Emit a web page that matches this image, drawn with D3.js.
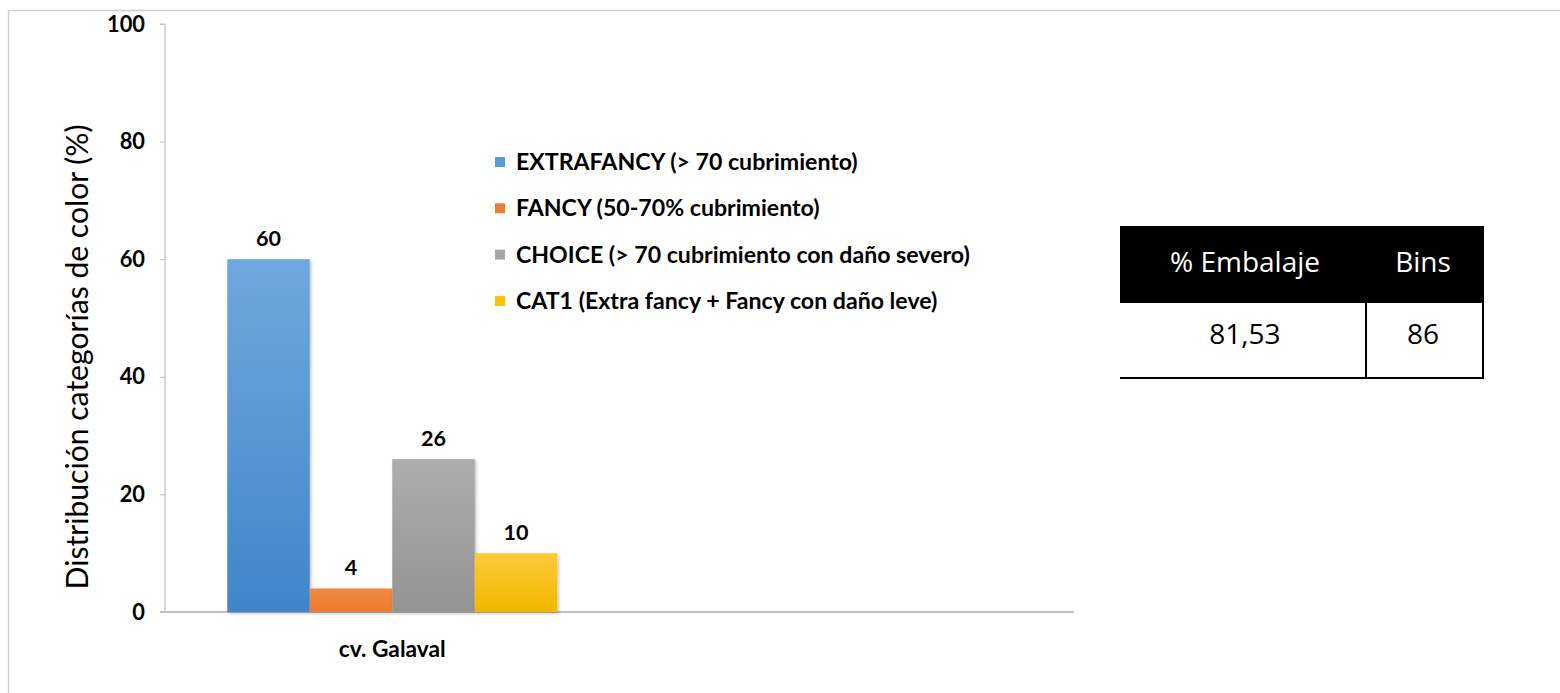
<!DOCTYPE html>
<html>
<head>
<meta charset="utf-8">
<script src="https://cdn.jsdelivr.net/npm/d3@7"></script>
<style>
  html, body { margin: 0; padding: 0; background: #fff; }
  svg { display: block; }
</style>
</head>
<body>
<svg id="chart" width="1560" height="693"></svg>
<script>
// ---------- data ----------
const categories = ["cv. Galaval", ""];
const seriesNames = [
  "EXTRAFANCY (> 70 cubrimiento)",
  "FANCY (50-70% cubrimiento)",
  "CHOICE (> 70 cubrimiento con daño severo)",
  "CAT1 (Extra fancy + Fancy con daño leve)"
];
const seriesValues = [60, 4, 26, 10];           // values for "cv. Galaval"
const yTicks = [0, 20, 40, 60, 80, 100];
const yTitle = "Distribución categorías de color (%)";
const tableHeaders = ["% Embalaje", "Bins"];
const tableValues = ["81,53", "86"];

// ---------- styles ----------
const colorsTop = ["#70a7de", "#f18b42", "#adadad", "#ffc938"];
const colorsBot = ["#3f86c9", "#ec7a2c", "#939393", "#efb800"];
const legendColors = ["#5b9bd5", "#ed7d31", "#a5a5a5", "#ffc000"];

const svg = d3.select("#chart");

function fitWidth(sel, target) {
  const node = sel.node();
  const fs = parseFloat(sel.attr("font-size"));
  const w = node.getComputedTextLength();
  sel.attr("font-size", (fs * target / w).toFixed(2));
}

// outer frame
svg.append("rect")
  .attr("x", 8.5).attr("y", 10.5)
  .attr("width", 1600).attr("height", 800)
  .attr("fill", "none").attr("stroke", "#d0d0d0").attr("stroke-width", 1.5);

// scales
const plot = { left: 165, right: 1074, top: 24, bottom: 612 };
const x0 = d3.scaleBand().domain(categories).range([plot.left, plot.right]).paddingInner(0).paddingOuter(0);
const groupW = 330;
const x1 = d3.scaleBand().domain(d3.range(seriesNames.length)).range([0, groupW]);
const y = d3.scaleLinear().domain([0, 100]).range([plot.bottom, plot.top]);

// gradients
const defs = svg.append("defs");
seriesNames.forEach((s, i) => {
  const g = defs.append("linearGradient").attr("id", "grad" + i)
    .attr("x1", 0).attr("y1", 0).attr("x2", 0).attr("y2", 1);
  g.append("stop").attr("offset", "0%").attr("stop-color", colorsTop[i]);
  g.append("stop").attr("offset", "100%").attr("stop-color", colorsBot[i]);
});
const shadow = defs.append("filter").attr("id", "shadow").attr("x", "-10%").attr("y", "-10%").attr("width", "130%").attr("height", "130%");
shadow.append("feDropShadow").attr("dx", 1.5).attr("dy", 1.5).attr("stdDeviation", 1.5).attr("flood-color", "#000").attr("flood-opacity", 0.25);

// y axis
const yAxis = d3.axisLeft(y).tickValues(yTicks).tickSize(5).tickPadding(15).tickFormat(d3.format("d"));
const gy = svg.append("g").attr("transform", `translate(${plot.left},0)`).call(yAxis);
gy.select(".domain").attr("stroke", "#bfbfbf").attr("stroke-width", 1.2).attr("d", `M-5,${plot.top}H0V${plot.bottom}`);
gy.selectAll(".tick line").attr("stroke", "#bfbfbf");
const yTickTexts = gy.selectAll(".tick text")
  .attr("font-family", "Lato, 'Open Sans', sans-serif")
  .attr("font-weight", "bold").attr("font-size", 20).attr("fill", "#000");
{
  const ref = yTickTexts.filter(d => d === 100);
  fitWidth(ref, 38);
  yTickTexts.attr("font-size", ref.attr("font-size"));
}

// x axis
const xAxis = d3.axisBottom(x0).tickSize(0).tickPadding(25);
const gx = svg.append("g").attr("transform", `translate(0,${plot.bottom})`).call(xAxis);
gx.select(".domain").attr("stroke", "#bfbfbf").attr("stroke-width", 2).attr("d", `M${plot.left - 5},0H${plot.right}`);
gx.selectAll(".tick text")
  .attr("font-family", "Lato, 'Open Sans', sans-serif")
  .attr("font-weight", "bold").attr("font-size", 18).attr("fill", "#000")
  .attr("dy", "0.9em");
gx.selectAll(".tick text").filter(d => d !== "").each(function() { fitWidth(d3.select(this), 107); });

// bars
const cat = categories[0];
const gx0 = x0(cat) + (x0.bandwidth() - groupW) / 2;
const bars = svg.append("g").attr("transform", `translate(${gx0},0)`);
bars.selectAll("rect").data(seriesValues).join("rect")
  .attr("x", (d, i) => x1(i))
  .attr("y", d => y(d))
  .attr("width", x1.bandwidth())
  .attr("height", d => y(0) - y(d))
  .attr("fill", (d, i) => `url(#grad${i})`)
  .attr("filter", "url(#shadow)");

// value labels
const valTexts = bars.selectAll("text").data(seriesValues).join("text")
  .attr("x", (d, i) => x1(i) + x1.bandwidth() / 2)
  .attr("y", d => y(d) - 13)
  .attr("text-anchor", "middle")
  .attr("font-family", "Lato, 'Open Sans', sans-serif")
  .attr("font-weight", "bold").attr("font-size", 18).attr("fill", "#000")
  .text(d => d);
{
  const ref = valTexts.filter(d => d === 26);
  fitWidth(ref, 25);
  valTexts.attr("font-size", ref.attr("font-size"));
}

// y title
const yt = svg.append("text")
  .attr("transform", "translate(88,357) rotate(-90)")
  .attr("text-anchor", "middle")
  .attr("font-family", "Lato, 'Open Sans', sans-serif")
  .attr("font-size", 22).attr("fill", "#000")
  .text(yTitle);
fitWidth(yt, 465);

// legend
const legend = svg.append("g").attr("transform", "translate(495,162)");
const items = legend.selectAll("g").data(seriesNames).join("g")
  .attr("transform", (d, i) => `translate(0,${i * 46.3})`);
items.append("rect").attr("x", 0).attr("y", -5).attr("width", 10).attr("height", 10)
  .attr("fill", (d, i) => legendColors[i]);
const legTexts = items.append("text").attr("x", 21).attr("y", 0).attr("dy", "0.35em")
  .attr("font-family", "Lato, 'Open Sans', sans-serif")
  .attr("font-weight", "bold").attr("font-size", 20).attr("fill", "#000")
  .text(d => d);
{
  const ref = legTexts.filter((d, i) => i === 2);
  fitWidth(ref, 454);
  legTexts.attr("font-size", ref.attr("font-size"));
}

// table
const tbl = { left: 1120, right: 1484, top: 226, mid: 303, bottom: 378, div: 1366 };
const tg = svg.append("g");
tg.append("rect").attr("x", tbl.left).attr("y", tbl.top)
  .attr("width", tbl.right - tbl.left).attr("height", tbl.mid - tbl.top).attr("fill", "#000");
tg.append("line").attr("x1", tbl.left).attr("x2", tbl.right).attr("y1", tbl.bottom).attr("y2", tbl.bottom)
  .attr("stroke", "#000").attr("stroke-width", 2);
tg.append("line").attr("x1", tbl.div).attr("x2", tbl.div).attr("y1", tbl.mid).attr("y2", tbl.bottom)
  .attr("stroke", "#000").attr("stroke-width", 2);
tg.append("line").attr("x1", tbl.right - 1).attr("x2", tbl.right - 1).attr("y1", tbl.top).attr("y2", tbl.bottom + 1)
  .attr("stroke", "#000").attr("stroke-width", 2);
const colCenters = [(tbl.left + tbl.div) / 2 + 2, (tbl.div + tbl.right) / 2 - 2];
const hdr = tg.selectAll("text.h").data(tableHeaders).join("text").attr("class", "h")
  .attr("x", (d, i) => colCenters[i]).attr("y", (tbl.top + tbl.mid) / 2 - 2).attr("dy", "0.35em")
  .attr("text-anchor", "middle")
  .attr("font-family", "'Open Sans', 'Noto Sans', sans-serif")
  .attr("font-size", 26).attr("fill", "#fff")
  .text(d => d);
{
  const ref = hdr.filter((d, i) => i === 0);
  fitWidth(ref, 150);
  hdr.attr("font-size", ref.attr("font-size"));
}
tg.selectAll("text.v").data(tableValues).join("text").attr("class", "v")
  .attr("x", (d, i) => colCenters[i]).attr("y", (tbl.mid + tbl.bottom) / 2 - 6).attr("dy", "0.35em")
  .attr("text-anchor", "middle")
  .attr("font-family", "'Open Sans', 'Noto Sans', sans-serif")
  .attr("font-size", hdr.attr("font-size")).attr("fill", "#000")
  .text(d => d);
</script>
</body>
</html>
